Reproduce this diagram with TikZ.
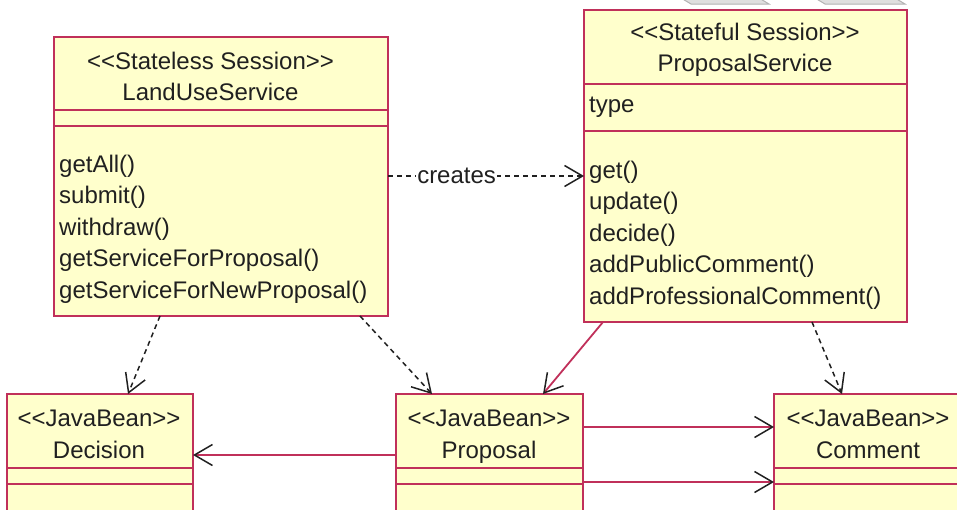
\documentclass[tikz,border=0pt]{standalone}
\usepackage{fontspec}
\usepackage{xcolor}
\usetikzlibrary{positioning, calc, arrows.meta}
\newfontfamily\umlfont{Liberation Sans}
\definecolor{umlred}{HTML}{C0305A}
\definecolor{umlfill}{HTML}{FFFFCC}
\definecolor{umlink}{HTML}{202020}

\begin{document}
\begin{tikzpicture}[x=1pt, y=-1pt,
    cls/.style={draw=umlred, line width=2pt, fill=umlfill, inner sep=0pt, outer sep=0pt, anchor=north west},
    lbl/.style={text=umlink, font=\umlfont\fontsize{24}{31.5}\selectfont, inner sep=0pt},
    openhead/.style={-{Straight Barb[length=18pt, width=21pt, line width=1.5pt, color=umlink]}},
    dep/.style={openhead, umlink, line width=1.5pt, dash pattern=on 5pt off 4pt},
    assoc/.style={openhead, umlred, line width=1.8pt}]
        \useasboundingbox (0,0) rectangle (957,509);
        \clip (0,0) rectangle (957,509);
        % tabs cut off by the top edge
        \filldraw[fill=gray!25, draw=gray!60, line width=1pt] (681,-2) -- (691,4) -- (769,4) -- (759,-2);
        \filldraw[fill=gray!25, draw=gray!60, line width=1pt] (815,-2) -- (825,4) -- (905,4) -- (895,-2);

        \node[cls, minimum width=334, minimum height=73] (lus) at (54,37) {};
        \node[cls, minimum width=334, minimum height=16] (lusattr) at (54,110) {};
        \node[cls, minimum width=334, minimum height=190] (lusops) at (54,126) {};
        \node[lbl, align=center, anchor=north] (lust) at (210.5,51.8) {<<Stateless Session>>\\LandUseService};
        \node[lbl, align=left, anchor=north west] (lusm) at (59,154.8) {getAll()\\submit()\\withdraw()\\getServiceForProposal()\\getServiceForNewProposal()};

        \node[cls, minimum width=323, minimum height=74] (ps) at (584,10) {};
        \node[cls, minimum width=323, minimum height=47] (psattr) at (584,84) {};
        \node[cls, minimum width=323, minimum height=191] (psops) at (584,131) {};
        \node[lbl, align=center, anchor=north] (pst) at (745,22.8) {<<Stateful Session>>\\ProposalService};
        \node[lbl, anchor=base west] (pstype) at (589,112) {type};
        \node[lbl, align=left, anchor=north west] (psm) at (589,160.8) {get()\\update()\\decide()\\addPublicComment()\\addProfessionalComment()};

        \foreach \n/\x/\w/\c/\t in {dec/7/186/99/Decision, prop/396/187/489/Proposal, com/774/188/868/Comment} {
            \node[cls, minimum width=\w, minimum height=74] (\n) at (\x,394) {};
            \node[cls, minimum width=\w, minimum height=16] (\n-attr) at (\x,468) {};
            \node[cls, minimum width=\w, minimum height=60] (\n-ops) at (\x,484) {};
            \node[lbl, align=center, anchor=north] (\n-t) at (\c,409.8) {<<JavaBean>>\\\t};
        }

        \draw[dep] ([yshift=45pt]lusops.east) -- node[lbl, fill=white, inner xsep=1pt, pos=0.35] (crl) {creates} ([yshift=50.5pt]psops.west);
        \draw[dep] ([xshift=106pt]lusops.south west) -- ([xshift=121pt]dec.north west);
        \draw[dep] ([xshift=306pt]lusops.south west) -- ([xshift=36pt]prop.north west);
        \draw[assoc] ([xshift=19pt]psops.south west) -- ([xshift=147pt]prop.north west);
        \draw[dep] ([xshift=228pt]psops.south west) -- ([xshift=68pt]com.north west);
        \draw[assoc] ([yshift=-24pt]prop.west) -- ([yshift=-24pt]dec.east);
        \draw[assoc] ([yshift=4pt]prop.east) -- ([yshift=4pt]com.west);
        \draw[assoc] ([yshift=-6pt]prop-attr.east) -- ([yshift=-6pt]com-attr.west);
    \end{tikzpicture}
\end{document}
